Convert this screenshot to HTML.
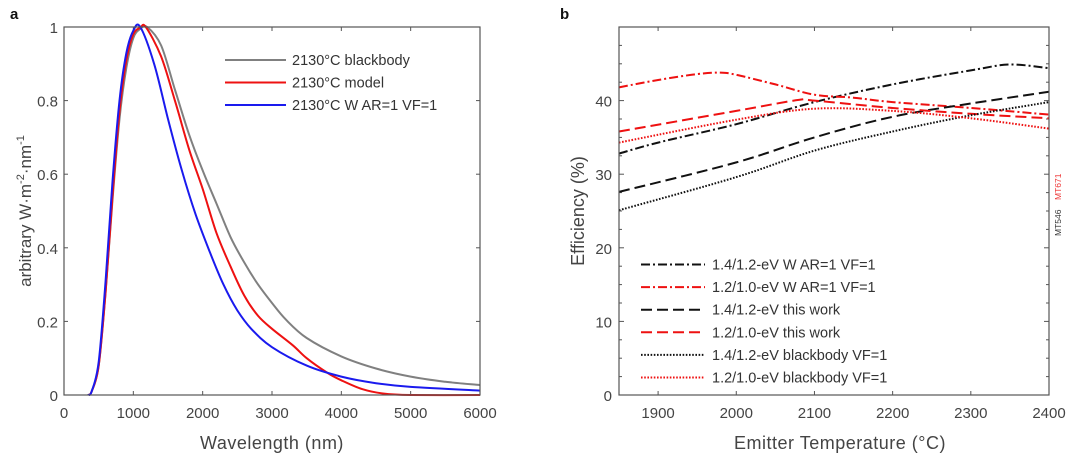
<!DOCTYPE html>
<html><head><meta charset="utf-8"><style>
body{margin:0;background:#fff;width:1080px;height:468px;overflow:hidden}
svg{display:block;font-family:"Liberation Sans",sans-serif}
</style></head><body>
<svg id="c" width="1080" height="468"></svg>
<script>
// ---- panel a data ----
const gWl=[350,400,500,600,700,800,900,1000,1100,1200,1400,1600,1800,2000,2200,2400,2600,2800,3000,3200,3500,4000,4500,5000,5500,6000];
const gVal=[0,0.01,0.08,0.28,0.53,0.75,0.89,0.97,0.995,1.0,0.95,0.83,0.71,0.61,0.52,0.43,0.36,0.3,0.25,0.205,0.155,0.105,0.072,0.05,0.036,0.027];
const rWl=[350,400,500,600,700,800,900,1000,1100,1180,1400,1600,1800,2000,2200,2400,2600,2800,3000,3300,3500,3800,4000,4300,4600,5000,6000];
const rVal=[0,0.01,0.08,0.28,0.54,0.77,0.91,0.98,0.998,1.0,0.92,0.8,0.67,0.56,0.44,0.35,0.27,0.215,0.18,0.135,0.1,0.06,0.04,0.016,0.004,0,0];
const bWl=[350,400,500,600,700,800,900,1000,1100,1300,1500,1700,1900,2100,2300,2500,2700,3000,3500,4000,4500,5000,6000];
const bVal=[0,0.01,0.09,0.31,0.58,0.8,0.93,0.99,1.0,0.9,0.75,0.61,0.49,0.39,0.3,0.23,0.18,0.13,0.08,0.05,0.032,0.022,0.012];
const aXTicks=[0,1000,2000,3000,4000,5000,6000];
const aYTicks=[0,0.2,0.4,0.6,0.8,1];
const aYLabels=["0","0.2","0.4","0.6","0.8","1"];
// ---- panel b data ----
const bTicksX=[1900,2000,2100,2200,2300,2400];
const bTicksY=[0,10,20,30,40];
const s1T=[1850,1900,2000,2100,2200,2300,2350,2400], s1V=[32.8,34.3,36.8,39.8,42.2,44.1,44.9,44.4];
const s2T=[1850,1900,1950,1980,2000,2050,2100,2150,2200,2300,2400], s2V=[41.8,42.8,43.6,43.8,43.5,42.2,40.8,40.4,39.8,39.0,38.1];
const s3T=[1850,2000,2100,2200,2300,2400], s3V=[27.6,31.6,35.0,37.8,39.6,41.2];
const s4T=[1850,2000,2080,2100,2200,2300,2400], s4V=[35.8,38.6,40.1,40.0,39.0,38.2,37.6];
const s5T=[1850,2000,2100,2200,2300,2400], s5V=[25.1,29.6,33.2,35.8,38.0,39.8];
const s6T=[1850,2000,2100,2200,2300,2400], s6V=[34.3,37.4,38.9,38.6,37.6,36.2];

const svg=document.getElementById('c');
const NS='http://www.w3.org/2000/svg';
function mk(tag,at,parent){const e=document.createElementNS(NS,tag);for(const k in at)e.setAttribute(k,at[k]);(parent||svg).appendChild(e);return e;}
function txt(s,at,parent){const e=mk('text',at,parent);e.textContent=s;return e;}
function smooth(pts){let d='M'+pts[0][0].toFixed(1)+','+pts[0][1].toFixed(1);
 for(let i=0;i<pts.length-1;i++){const p0=pts[Math.max(i-1,0)],p1=pts[i],p2=pts[i+1],p3=pts[Math.min(i+2,pts.length-1)];
  const c1=[p1[0]+(p2[0]-p0[0])/6,p1[1]+(p2[1]-p0[1])/6],c2=[p2[0]-(p3[0]-p1[0])/6,p2[1]-(p3[1]-p1[1])/6];
  d+=' C'+c1.map(v=>v.toFixed(1))+' '+c2.map(v=>v.toFixed(1))+' '+p2[0].toFixed(1)+','+p2[1].toFixed(1);}
 return d;}
const TC='#444';

// ===== panel a =====
const ax={x0:64,x1:480,y0:395,y1:27};
const xa=v=>ax.x0+(v-0)/6000*(ax.x1-ax.x0);
const ya=v=>ax.y0-(v)/1*(ax.y0-ax.y1);
txt('a',{x:10,y:19,'font-size':15,'font-weight':'bold',fill:'#111'});
const ga=mk('g',{});

aXTicks.forEach(t=>{const X=xa(t);
 mk('line',{x1:X,x2:X,y1:ax.y0,y2:ax.y0-4,stroke:'#555'},ga);mk('line',{x1:X,x2:X,y1:ax.y1,y2:ax.y1+4,stroke:'#555'},ga);
 const e=txt(String(t),{x:X,y:ax.y0+23,'font-size':15,'text-anchor':'middle',fill:TC},ga);
 });
aYTicks.forEach((t,i)=>{const Y=ya(t);
 mk('line',{x1:ax.x0,x2:ax.x0+4,y1:Y,y2:Y,stroke:'#555'},ga);mk('line',{x1:ax.x1,x2:ax.x1-4,y1:Y,y2:Y,stroke:'#555'},ga);
 const e=txt(aYLabels[i],{x:ax.x0-6,y:Y+6,'font-size':15,'text-anchor':'end',fill:TC},ga);
 });
function seriesA(X,V,col,name){const p=mk('path',{d:smooth(X.map((x,i)=>[xa(x),ya(V[i])])),fill:'none',stroke:col,'stroke-width':2},ga);
 }
seriesA(gWl,gVal,'#808080','blackbody-curve');
seriesA(rWl,rVal,'#ee1111','model-curve');
seriesA(bWl,bVal,'#1a1aee','w-ar1-vf1-curve');
mk('rect',{x:ax.x0,y:ax.y1,width:ax.x1-ax.x0,height:ax.y0-ax.y1,fill:'none',stroke:'#555','stroke-width':1.2},ga);
const legA=[['2130°C blackbody','#808080'],['2130°C model','#ee1111'],['2130°C W AR=1 VF=1','#1a1aee']];
legA.forEach((l,i)=>{const y=60+i*22.5;const g=mk('g',{},ga);
 
 mk('line',{x1:225,x2:286,y1:y,y2:y,stroke:l[1],'stroke-width':2},g);
 txt(l[0],{x:292,y:y+5,'font-size':14.5,fill:'#333'},g);});
const yta=txt('',{transform:'translate(31,211) rotate(-90)','font-size':17,'text-anchor':'middle',fill:TC});
yta.innerHTML='arbitrary W·m<tspan dy="-7" font-size="11">-2</tspan><tspan dy="7">·nm</tspan><tspan dy="-7" font-size="11">-1</tspan>';

const xta=txt('Wavelength (nm)',{x:272,y:449,'font-size':18,'text-anchor':'middle',fill:TC,'letter-spacing':'0.5'});


// ===== panel b =====
const bx={x0:619,x1:1049,y0:395,y1:27};
const xb=v=>bx.x0+(v-1850)/550*(bx.x1-bx.x0);
const yb=v=>bx.y0-v/50*(bx.y0-bx.y1);
txt('b',{x:560,y:19,'font-size':15,'font-weight':'bold',fill:'#111'});
const gb=mk('g',{});

bTicksX.forEach(t=>{const X=xb(t);
 mk('line',{x1:X,x2:X,y1:bx.y0,y2:bx.y0-4,stroke:'#555'},gb);mk('line',{x1:X,x2:X,y1:bx.y1,y2:bx.y1+4,stroke:'#555'},gb);
 const e=txt(String(t),{x:X,y:bx.y0+23,'font-size':15,'text-anchor':'middle',fill:TC},gb);
 });
for(let v=0;v<=50;v+=2.5){const Y=yb(v);const L=(v%10===0)?5:3;
 mk('line',{x1:bx.x0,x2:bx.x0+L,y1:Y,y2:Y,stroke:'#555'},gb);mk('line',{x1:bx.x1,x2:bx.x1-L,y1:Y,y2:Y,stroke:'#555'},gb);}
bTicksY.forEach(t=>{const e=txt(String(t),{x:bx.x0-7,y:yb(t)+6,'font-size':15,'text-anchor':'end',fill:TC},gb);
 });
const DD='9,3,2,3', DA='11,5', DO='1.6,1.6';
const seriesB=[[s1T,s1V,'#111',DD,'s-1412-w'],[s2T,s2V,'#ee1111',DD,'s-1210-w'],[s3T,s3V,'#111',DA,'s-1412-this-work'],
 [s4T,s4V,'#ee1111',DA,'s-1210-this-work'],[s5T,s5V,'#111',DO,'s-1412-blackbody'],[s6T,s6V,'#ee1111',DO,'s-1210-blackbody']];
seriesB.forEach(s=>{const p=mk('path',{d:smooth(s[0].map((x,i)=>[xb(x),yb(s[1][i])])),fill:'none',stroke:s[2],'stroke-width':2,'stroke-dasharray':s[3]},gb);
 });
mk('rect',{x:bx.x0,y:bx.y1,width:bx.x1-bx.x0,height:bx.y0-bx.y1,fill:'none',stroke:'#555','stroke-width':1.2},gb);
const legB=['1.4/1.2-eV W AR=1 VF=1','1.2/1.0-eV W AR=1 VF=1','1.4/1.2-eV this work','1.2/1.0-eV this work','1.4/1.2-eV blackbody VF=1','1.2/1.0-eV blackbody VF=1'];
legB.forEach((l,i)=>{const y=264.5+i*22.6;const s=seriesB[i];const g=mk('g',{},gb);
 
 mk('line',{x1:641,x2:705,y1:y,y2:y,stroke:s[2],'stroke-width':2,'stroke-dasharray':s[3]},g);
 txt(l,{x:712,y:y+5,'font-size':14.5,fill:'#333'},g);});
const ytb=txt('Efficiency (%)',{transform:'translate(584,211) rotate(-90)','font-size':18,'text-anchor':'middle',fill:TC});

const xtb=txt('Emitter Temperature (°C)',{x:840,y:449,'font-size':18,'text-anchor':'middle',fill:TC,'letter-spacing':'0.5'});

const m1=txt('MT546',{transform:'translate(1061,236) rotate(-90)','font-size':8.5,fill:'#333'});

const m2=txt('MT671',{transform:'translate(1061,200) rotate(-90)','font-size':8.5,fill:'#e33'});

</script>
</body></html>
